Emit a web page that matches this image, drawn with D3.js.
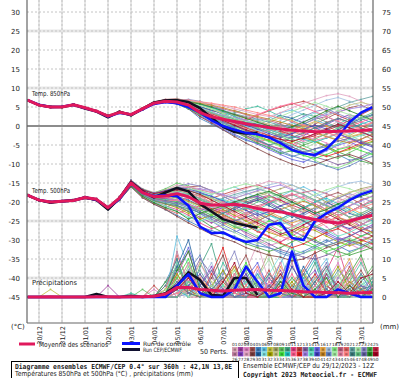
<!DOCTYPE html>
<html>
<head>
<meta charset="utf-8">
<title>Diagramme ensembles ECMWF/CEP</title>
<script src="https://cdn.jsdelivr.net/npm/d3@7/dist/d3.min.js"></script>
<style>
  body {margin:0;background:#fff;}
  svg text {font-family:"DejaVu Sans",sans-serif;fill:#222;}
</style>
</head>
<body>
<svg id="chart" width="400" height="378"></svg>
<script>
// échéances (heures depuis le 29/12 12Z)
var hours = [0,12,24,36,48,60,72,84,96,108,120,132,144,156,168,180,192,204,216,228,240,252,264,276,288,300,312,324,336,348,360];
var dayHours = [12,36,60,84,108,132,156,180,204,228,252,276,300,324,348];
var dayLabels = ["30/12","31/12","01/01","02/01","03/01","04/01","05/01","06/01","07/01","08/01","09/01","10/01","11/01","12/01","13/01"];
var leftTicks = [30,25,20,15,10,5,0,-5,-10,-15,-20,-25,-30,-35,-40,-45];
var rightTicks = [75,70,65,60,55,50,45,40,35,30,25,20,15,10,5,0];

// moyenne, contrôle et run déterministe
var t850Mean = [6.8,5.5,5.0,5.0,5.6,4.8,3.9,2.6,3.6,3.0,4.5,6.0,6.5,6.3,5.5,3.5,2.4,1.8,1.2,0.6,0.1,-0.4,-0.8,-1.1,-1.3,-1.5,-1.5,-1.4,-1.3,-1.2,-1.0];
var t850Ctrl = [6.8,5.6,5.0,5.1,5.6,4.7,3.9,2.5,3.5,3.0,4.4,5.8,6.3,6.0,5.0,3.5,1.5,0.0,-1.0,-1.8,-2.2,-3.0,-4.5,-6.3,-7.2,-7.6,-6.0,-3.0,1.0,3.5,5.0];
var t850Hres = [6.8,5.5,5.0,5.0,5.6,4.6,3.8,2.3,3.8,2.8,4.5,6.2,6.8,6.8,6.3,4.7,2.2,-0.2,-1.6,-2.0,-1.8];
var t500Mean = [-18.2,-19.5,-20,-19.8,-19.6,-18.8,-19.3,-21.5,-19,-15,-17.5,-18.6,-18.4,-17.8,-18.6,-20.3,-20.8,-20.8,-20.6,-21,-21.7,-22.2,-22.6,-23.2,-24,-24.6,-25.2,-25.5,-25,-24.2,-23.5];
var t500Ctrl = [-18.2,-19.5,-20,-19.8,-19.6,-18.8,-19.4,-21.5,-19.2,-15.2,-17.5,-18.4,-18.2,-18.5,-21,-26.5,-28.2,-28.0,-29.5,-30.5,-30,-26,-25.5,-29.5,-30,-25,-23,-21.5,-19.5,-18,-17];
var t500Hres = [-18.2,-19.5,-20.2,-19.8,-19.5,-18.8,-19.5,-22,-19,-14.8,-17.2,-18.8,-17.5,-16.3,-17.2,-20.5,-22.5,-24.5,-25.5,-26.2,-26.8];
var rrMean = [0,0,0.1,0,0,0,0.1,0.1,0,0.1,0.1,0.2,0.8,2.5,2.5,2.0,1.8,1.6,1.8,1.9,2.0,1.8,1.7,1.6,1.4,1.3,1.2,1.1,1.0,1.1,1.2];
var rrCtrl = [0,0,0,0,0,0,0,0,0,0,0,0,0,3,6,1,0,0,2,8,4,0,1,12,3,0,0,2,1,0,0];
var rrHres = [0,0,0,0,0,0,0.8,0,0,0.3,0,0.3,1,3,6.5,4.5,0.5,0.3,5,5,0.5];

// 50 perturbations, T850
var t850Members = [
[6.6,5.4,5.1,4.9,5.5,4.7,3.8,2.4,3.7,3.1,4.8,6.3,6.9,6.5,5.2,3.0,2.5,3.5,4.2,3.0,1.5,0.2,-1.5,-2.8,-3.5,-2.0,-0.5,1.2,2.5,3.0,2.2],
[6.9,5.6,4.9,5.1,5.7,4.9,4.0,2.7,3.4,2.8,4.2,5.8,6.2,6.8,6.0,4.8,3.5,2.0,0.5,-1.0,-2.5,-3.0,-2.2,-1.0,0.5,1.8,2.5,1.0,-0.5,-1.8,-2.5],
[6.7,5.5,5.0,5.2,5.4,4.6,3.7,2.5,3.9,3.2,4.6,6.1,6.6,6.0,4.8,2.5,1.0,-0.5,-1.5,-2.0,-3.5,-5.0,-6.2,-5.5,-4.0,-3.2,-4.5,-6.0,-5.2,-3.5,-2.0],
[6.8,5.3,4.8,5.0,5.8,5.0,4.1,2.8,3.5,2.9,4.4,6.2,7.0,7.2,6.5,5.0,4.2,3.8,2.5,1.0,0.2,-0.8,-1.5,-2.0,-1.2,0.5,2.0,3.5,4.8,5.5,4.2],
[6.9,5.7,5.2,4.8,5.5,4.8,3.9,2.6,3.3,2.7,4.3,5.9,6.4,5.8,4.5,2.0,0.5,-1.0,-2.5,-3.8,-4.5,-5.5,-7.0,-8.0,-7.2,-6.0,-5.5,-7.5,-9.0,-8.5,-7.0],
[6.7,5.5,5.1,5.1,5.6,4.8,3.8,2.3,3.6,3.1,4.7,6.0,6.5,6.6,6.2,5.5,5.0,4.2,3.0,2.2,1.5,2.0,3.5,4.2,3.0,1.5,0.5,-0.8,-2.0,-1.0,0.5],
[6.8,5.6,5.0,4.9,5.5,4.9,4.0,2.9,3.8,3.0,4.5,5.8,6.3,6.4,5.6,4.0,2.8,1.5,0.0,-1.5,-0.5,1.0,2.2,1.5,0.0,-1.5,-2.8,-3.5,-2.5,-1.0,0.8],
[6.6,5.4,5.0,5.0,5.7,4.7,3.9,2.5,3.5,2.9,4.4,6.1,6.7,6.2,5.0,3.2,2.2,1.0,-0.5,-2.0,-3.2,-4.0,-3.0,-1.5,-2.5,-4.2,-5.5,-4.8,-3.0,-2.2,-3.5],
[6.8,5.5,5.2,5.1,5.5,4.8,3.8,2.6,3.7,3.2,4.6,6.2,6.8,7.0,6.8,6.0,4.5,3.0,1.8,0.5,-0.8,-1.5,-2.8,-4.0,-5.2,-6.5,-7.8,-8.5,-7.0,-5.5,-4.2],
[6.9,5.5,4.9,4.9,5.6,4.9,4.0,2.7,3.6,3.0,4.5,5.9,6.3,5.9,4.9,3.8,3.0,2.5,2.0,1.2,0.5,-0.2,0.8,2.0,3.2,2.5,1.0,-0.5,0.2,1.5,2.8],
[6.7,5.6,5.1,5.0,5.4,4.7,3.7,2.4,3.8,3.1,4.7,6.3,6.9,6.9,6.0,4.2,2.8,1.2,-0.8,-2.5,-4.0,-5.2,-6.0,-5.0,-3.5,-2.0,-1.0,-2.0,-3.5,-4.5,-5.0],
[6.8,5.4,5.0,5.1,5.6,4.8,3.9,2.6,3.5,2.9,4.3,5.8,6.4,6.2,5.4,3.5,2.0,0.8,0.5,1.5,2.8,4.0,5.0,5.8,6.5,5.5,4.0,2.8,1.5,0.2,-1.0],
[6.9,5.6,5.0,4.9,5.7,4.9,4.0,2.8,3.4,2.8,4.4,6.0,6.6,6.8,6.5,5.2,3.8,2.5,1.0,-0.2,-1.2,-2.5,-4.0,-5.5,-7.0,-8.2,-9.0,-10.2,-9.5,-8.0,-6.5],
[6.6,5.5,5.1,5.0,5.5,4.8,3.8,2.5,3.6,3.0,4.6,6.1,6.5,6.1,5.3,4.0,3.2,2.8,3.5,4.5,5.2,4.0,2.5,1.0,-0.5,-1.8,-1.0,0.5,2.0,3.2,4.5],
[6.8,5.5,5.0,5.0,5.6,4.7,3.9,2.6,3.7,3.1,4.5,6.0,6.4,6.0,4.6,2.8,1.0,-0.8,-2.2,-3.5,-4.8,-6.2,-7.5,-8.8,-9.5,-8.0,-6.5,-5.0,-4.2,-5.5,-6.8],
[6.7,5.4,4.9,5.1,5.6,4.9,4.0,2.7,3.5,3.0,4.6,6.2,6.8,6.6,5.8,4.5,3.5,2.2,1.5,0.8,0.0,-1.0,-2.0,-1.2,0.0,1.2,0.0,-1.5,-2.8,-2.0,-0.8],
[6.9,5.6,5.1,4.9,5.5,4.8,3.8,2.5,3.6,3.1,4.7,6.1,6.5,6.3,5.5,3.8,2.2,0.5,-1.0,-2.2,-1.5,0.0,1.5,3.0,4.2,5.5,6.8,7.5,6.5,5.2,4.0],
[6.8,5.5,5.0,5.0,5.6,4.8,3.9,2.6,3.6,3.0,4.5,6.0,6.5,6.4,5.7,4.3,3.0,2.0,0.8,-0.5,-1.8,-3.0,-4.5,-6.0,-7.5,-9.0,-10.5,-11.0,-9.8,-8.5,-7.2],
[6.7,5.6,5.2,5.1,5.5,4.6,3.7,2.4,3.8,3.2,4.8,6.3,6.8,6.7,6.3,5.8,5.2,4.5,3.8,3.0,2.2,1.5,0.5,-0.5,-1.5,-0.5,1.0,2.0,1.0,-0.5,-1.5],
[6.8,5.4,4.9,4.9,5.7,5.0,4.1,2.8,3.4,2.8,4.3,5.8,6.2,5.9,5.0,3.2,1.8,0.2,-1.2,-2.8,-4.2,-3.5,-2.0,-0.8,-1.8,-3.0,-2.2,-1.0,0.2,-0.8,-2.0],
[6.9,5.5,5.0,5.0,5.6,4.8,3.8,2.6,3.6,3.0,4.4,5.9,6.4,6.5,6.2,5.5,4.8,4.0,3.2,2.5,1.8,1.0,0.2,-0.5,0.5,2.0,3.5,5.0,6.2,7.0,7.8],
[6.6,5.5,5.1,5.0,5.5,4.7,3.9,2.5,3.7,3.1,4.6,6.1,6.7,6.4,5.2,3.5,2.0,0.5,-0.5,-1.8,-3.0,-4.2,-5.5,-6.8,-6.0,-4.5,-3.0,-1.8,-2.5,-3.8,-5.0],
[6.8,5.6,5.0,5.1,5.6,4.9,4.0,2.7,3.5,2.9,4.5,6.0,6.6,6.9,7.0,6.5,5.5,4.2,2.8,1.5,0.2,-1.2,-0.5,1.0,2.5,3.8,4.5,3.2,2.0,1.0,0.0],
[6.7,5.4,5.0,4.9,5.5,4.8,3.8,2.6,3.7,3.0,4.6,6.1,6.5,6.0,4.8,3.0,1.5,0.0,-1.5,-3.0,-4.5,-5.8,-7.2,-6.5,-5.0,-4.0,-5.2,-6.8,-8.0,-9.2,-10.0],
[6.8,5.5,5.0,5.0,5.6,4.8,3.9,2.5,3.6,3.1,4.5,6.0,6.5,6.3,5.6,4.6,4.0,3.5,3.0,2.2,1.2,0.0,-1.2,-2.5,-3.5,-2.5,-1.2,0.0,1.5,3.0,4.5],
[6.9,5.6,5.1,5.0,5.5,4.7,3.8,2.6,3.6,3.0,4.7,6.2,6.7,6.6,5.9,4.8,3.5,2.0,0.5,-1.0,-2.2,-3.2,-2.5,-1.0,0.5,0.0,-1.5,-3.0,-4.2,-3.5,-2.0],
[6.7,5.5,5.0,5.1,5.6,4.9,4.0,2.7,3.5,2.9,4.4,5.9,6.4,6.2,5.1,3.8,2.5,1.8,1.0,0.2,-0.5,-1.5,-2.5,-3.2,-2.5,-1.0,0.5,1.8,3.0,2.0,0.8],
[6.8,5.4,4.9,5.0,5.6,4.8,3.9,2.5,3.7,3.1,4.6,6.0,6.6,6.8,6.6,6.2,5.8,5.2,4.5,3.8,3.0,2.5,3.5,4.8,6.0,7.0,8.0,8.5,7.8,6.5,5.0],
[6.6,5.5,5.1,4.9,5.5,4.7,3.8,2.4,3.8,3.2,4.7,6.2,6.6,6.0,4.5,2.5,0.8,-1.0,-2.8,-4.5,-6.0,-7.5,-8.8,-10.0,-11.0,-10.2,-9.0,-8.0,-7.5,-8.5,-9.8],
[6.9,5.6,5.0,5.0,5.7,4.9,4.0,2.8,3.5,2.9,4.3,5.8,6.3,6.4,5.9,5.0,4.2,3.2,2.0,1.0,0.5,1.5,2.8,2.0,0.8,-0.5,-1.8,-1.0,0.5,2.0,3.0],
[6.8,5.5,5.0,5.0,5.6,4.8,3.9,2.6,3.6,3.0,4.5,6.0,6.5,6.4,5.8,4.8,3.8,2.5,1.2,0.0,-1.2,-2.0,-1.0,0.5,2.0,3.5,2.5,1.0,-0.2,-1.5,-2.5],
[6.7,5.6,5.1,5.0,5.5,4.8,3.8,2.5,3.6,3.1,4.6,6.1,6.6,6.2,5.3,4.0,2.8,1.5,0.2,-1.2,-2.5,-3.8,-5.0,-4.2,-3.0,-4.0,-5.5,-7.0,-6.2,-5.0,-4.0],
[6.8,5.4,5.0,5.1,5.6,4.9,4.0,2.7,3.5,2.9,4.4,5.9,6.5,6.7,6.4,5.5,4.5,3.5,2.8,2.0,1.2,0.5,-0.5,-1.5,-0.5,1.0,2.5,4.0,5.5,6.2,5.5],
[6.9,5.5,5.0,4.9,5.6,4.8,3.9,2.6,3.7,3.0,4.5,6.0,6.4,5.8,4.6,3.0,1.8,0.8,-0.5,-1.8,-2.8,-4.0,-5.2,-6.5,-7.8,-8.5,-7.5,-6.2,-5.5,-6.5,-7.5],
[6.6,5.5,5.1,5.0,5.5,4.7,3.8,2.5,3.6,3.1,4.6,6.1,6.8,7.0,6.6,5.8,4.8,3.8,2.5,1.2,0.0,-1.0,-2.0,-2.8,-3.5,-4.2,-3.2,-2.0,-0.8,0.5,1.5],
[6.8,5.6,5.0,5.0,5.6,4.9,3.9,2.7,3.5,2.9,4.4,5.9,6.3,6.0,5.2,3.8,2.5,1.5,1.0,1.8,3.0,4.2,5.2,6.0,5.0,3.8,2.5,1.2,0.0,1.0,2.2],
[6.7,5.5,4.9,5.1,5.6,4.8,3.9,2.6,3.7,3.0,4.5,6.0,6.6,6.5,5.8,4.5,3.2,2.0,0.8,-0.5,-1.5,-2.5,-3.5,-4.8,-6.0,-7.2,-8.0,-7.0,-5.8,-4.5,-3.5],
[6.9,5.4,5.0,5.0,5.5,4.7,3.8,2.5,3.6,3.1,4.7,6.2,6.7,6.4,5.5,4.2,3.5,2.8,2.2,1.5,0.8,0.0,-0.8,0.0,1.2,2.2,3.0,3.8,4.5,5.0,5.8],
[6.8,5.6,5.1,4.9,5.6,4.8,3.9,2.6,3.5,3.0,4.5,6.0,6.4,6.1,5.0,3.4,2.0,0.8,-0.2,-1.0,-2.0,-3.0,-4.0,-5.0,-6.2,-7.0,-6.0,-4.8,-3.5,-2.5,-1.5],
[6.7,5.5,5.0,5.0,5.7,4.9,4.0,2.7,3.6,2.9,4.3,5.8,6.2,5.8,4.8,3.5,2.5,1.8,1.0,0.2,-0.8,-2.0,-3.0,-2.0,-0.8,0.2,-0.8,-2.0,-3.2,-4.5,-5.5],
[6.8,5.5,5.0,5.0,5.5,4.8,3.8,2.6,3.7,3.1,4.6,6.1,6.6,6.7,6.4,6.0,5.5,4.8,4.0,3.2,2.5,1.8,1.0,0.2,-0.8,-1.8,-2.8,-3.8,-4.5,-3.5,-2.2],
[6.9,5.6,5.1,5.1,5.6,4.7,3.9,2.5,3.6,3.0,4.5,6.0,6.5,6.2,5.2,3.8,2.2,0.8,-0.5,-2.0,-3.5,-5.0,-6.5,-7.8,-8.8,-9.5,-10.5,-11.5,-10.5,-9.0,-8.0],
[6.6,5.4,5.0,4.9,5.6,4.9,4.0,2.7,3.5,2.9,4.4,5.9,6.4,6.5,6.2,5.5,4.5,3.2,2.0,1.2,0.8,1.5,2.5,3.8,5.0,6.2,5.2,4.0,3.0,2.2,1.5],
[6.8,5.5,5.0,5.0,5.6,4.8,3.9,2.6,3.6,3.0,4.5,6.0,6.5,6.3,5.5,4.2,3.0,1.8,0.5,-0.8,-2.0,-1.2,0.0,-1.0,-2.5,-3.8,-3.0,-2.0,-1.0,0.0,0.8],
[6.7,5.6,5.1,5.0,5.5,4.7,3.8,2.4,3.8,3.2,4.8,6.3,6.9,7.0,6.8,6.4,6.0,5.5,5.0,4.2,3.5,2.8,2.0,1.2,0.2,-0.8,-1.8,-2.5,-1.5,-0.2,1.0],
[6.8,5.5,4.9,5.0,5.6,4.9,4.0,2.7,3.5,2.9,4.4,5.9,6.4,6.0,4.8,3.2,1.8,0.2,-1.2,-2.5,-3.8,-5.0,-4.2,-3.0,-1.8,-0.5,0.8,2.0,1.0,-0.5,-1.8],
[6.9,5.5,5.0,5.1,5.6,4.8,3.9,2.6,3.6,3.1,4.6,6.1,6.6,6.4,5.7,4.5,3.5,2.5,1.5,0.5,-0.5,-1.5,-2.5,-3.5,-4.5,-3.5,-2.0,-0.5,1.0,2.2,3.5],
[6.7,5.4,5.0,5.0,5.5,4.8,3.8,2.5,3.7,3.0,4.5,6.0,6.5,6.2,5.3,3.8,2.5,1.2,0.0,-1.2,-2.2,-3.2,-4.2,-5.5,-6.8,-6.0,-5.0,-4.0,-3.2,-4.0,-5.2],
[6.8,5.6,5.1,4.9,5.6,4.9,4.0,2.8,3.5,2.9,4.3,5.8,6.3,6.5,6.3,5.8,5.0,4.0,3.0,2.0,1.0,0.0,-1.0,-0.2,1.0,2.5,4.0,5.2,4.0,2.8,1.5],
[6.6,5.5,5.0,5.0,5.6,4.7,3.9,2.6,3.6,3.1,4.6,6.1,6.6,6.3,5.5,4.0,2.8,1.5,0.2,-1.0,-2.0,-2.8,-3.5,-4.0,-3.2,-2.0,-0.8,0.5,-0.5,-1.5,-2.8]
];

// 50 perturbations, T500
var t500Members = [
[-18.0,-19.4,-20.2,-19.6,-19.5,-18.6,-19.5,-21.8,-18.5,-14.2,-16.5,-17.5,-16.8,-15.5,-16.2,-18.0,-20.5,-22.5,-24.0,-23.0,-21.5,-20.2,-19.5,-21.0,-23.5,-26.0,-28.5,-27.0,-25.0,-23.0,-21.5],
[-18.3,-19.6,-19.9,-19.9,-19.7,-19.0,-19.2,-21.3,-19.3,-15.6,-18.2,-19.8,-20.5,-21.2,-22.5,-24.0,-25.5,-24.0,-22.0,-20.5,-19.0,-18.2,-19.5,-21.5,-22.8,-21.5,-20.0,-21.8,-24.0,-26.5,-28.0],
[-18.1,-19.5,-20.1,-19.8,-19.4,-18.7,-19.4,-21.6,-19.1,-14.8,-17.0,-18.0,-17.2,-16.5,-17.8,-19.5,-21.0,-23.5,-26.0,-28.5,-30.0,-31.5,-30.5,-28.5,-26.0,-24.5,-26.5,-29.0,-31.0,-32.5,-31.0],
[-18.2,-19.3,-20.0,-19.7,-19.6,-18.9,-19.1,-21.2,-18.8,-15.2,-17.8,-19.0,-18.5,-17.0,-16.0,-15.8,-17.0,-18.5,-20.0,-22.0,-24.5,-26.0,-24.5,-23.0,-21.5,-20.0,-18.5,-17.5,-18.8,-20.5,-22.0],
[-18.4,-19.7,-20.1,-20.0,-19.8,-19.1,-19.6,-22.0,-19.6,-16.0,-18.8,-20.5,-22.0,-23.5,-25.0,-26.5,-27.5,-28.5,-29.0,-30.5,-31.5,-32.0,-33.0,-34.0,-33.0,-31.5,-30.0,-31.5,-33.0,-32.0,-30.5],
[-18.1,-19.4,-19.8,-19.6,-19.5,-18.6,-19.2,-21.4,-18.7,-14.5,-16.8,-17.8,-17.5,-17.0,-16.5,-17.2,-18.0,-17.0,-16.0,-17.5,-19.0,-20.0,-18.5,-17.0,-16.0,-17.5,-19.5,-21.0,-22.5,-21.0,-19.5],
[-18.2,-19.5,-20.0,-19.9,-19.7,-18.8,-19.3,-21.5,-19.0,-15.5,-18.0,-19.5,-20.0,-20.5,-21.0,-22.5,-24.0,-25.5,-27.0,-26.0,-24.5,-23.0,-24.5,-26.5,-28.0,-29.5,-28.0,-26.0,-24.5,-25.5,-27.0],
[-18.3,-19.6,-20.2,-19.8,-19.5,-18.9,-19.5,-21.7,-19.2,-14.9,-17.3,-18.4,-17.8,-17.5,-18.8,-21.0,-23.0,-22.0,-20.5,-19.5,-18.5,-17.5,-16.5,-15.5,-16.8,-18.5,-20.0,-19.0,-17.5,-16.5,-15.8],
[-18.0,-19.3,-19.9,-19.7,-19.6,-18.7,-19.2,-21.4,-18.9,-14.3,-16.6,-17.6,-16.5,-15.0,-15.8,-17.5,-19.0,-20.5,-22.0,-23.5,-25.0,-26.5,-28.0,-29.5,-31.0,-32.0,-33.5,-34.5,-33.5,-32.0,-30.5],
[-18.2,-19.5,-20.0,-19.8,-19.6,-18.8,-19.4,-21.6,-19.1,-15.3,-18.5,-20.2,-21.5,-20.0,-18.8,-19.5,-20.5,-21.5,-20.5,-19.0,-18.0,-19.5,-21.0,-22.5,-21.5,-20.5,-22.0,-23.5,-22.5,-21.0,-20.0],
[-18.4,-19.6,-20.1,-19.9,-19.7,-19.0,-19.5,-21.8,-19.4,-15.8,-18.6,-20.0,-21.0,-22.0,-23.5,-25.5,-27.0,-26.0,-24.5,-25.8,-27.5,-29.0,-30.5,-29.0,-27.0,-25.5,-24.0,-25.5,-27.5,-29.0,-30.0],
[-18.1,-19.4,-19.9,-19.7,-19.5,-18.7,-19.1,-21.3,-18.6,-14.6,-17.0,-18.2,-17.5,-16.8,-17.5,-18.5,-19.0,-18.0,-17.0,-16.2,-15.5,-16.5,-18.0,-19.5,-21.0,-22.5,-24.0,-22.5,-21.0,-19.5,-18.5],
[-18.2,-19.5,-20.0,-19.8,-19.6,-18.8,-19.3,-21.5,-19.0,-15.1,-17.6,-18.8,-19.2,-19.8,-20.8,-22.0,-23.5,-25.0,-26.5,-28.0,-29.5,-31.0,-32.5,-33.5,-34.5,-35.0,-34.0,-32.5,-31.0,-30.0,-29.0],
[-18.3,-19.6,-20.0,-19.9,-19.6,-18.9,-19.4,-21.6,-19.2,-15.4,-17.9,-19.2,-19.5,-18.5,-17.8,-18.2,-19.0,-20.0,-21.5,-23.0,-22.0,-20.5,-19.0,-18.0,-19.5,-21.0,-22.5,-24.0,-25.5,-24.0,-22.5],
[-18.2,-19.5,-20.1,-19.8,-19.5,-18.8,-19.3,-21.5,-19.0,-15.0,-17.4,-18.5,-18.8,-19.5,-21.0,-23.0,-25.0,-27.0,-28.0,-26.5,-25.0,-23.5,-22.0,-23.5,-25.0,-26.5,-28.0,-29.5,-30.5,-29.0,-27.5],
[-18.1,-19.4,-19.9,-19.7,-19.6,-18.6,-19.2,-21.4,-18.8,-14.7,-17.1,-18.0,-17.0,-16.2,-16.8,-18.0,-19.5,-21.0,-22.5,-22.0,-21.0,-22.5,-24.0,-25.5,-24.5,-23.0,-21.5,-20.5,-21.5,-23.0,-24.5],
[-18.3,-19.6,-20.0,-19.9,-19.7,-18.9,-19.4,-21.6,-19.1,-15.2,-17.7,-18.9,-19.5,-20.2,-21.5,-22.2,-21.0,-19.5,-18.5,-17.5,-16.5,-15.5,-14.8,-15.5,-17.0,-18.5,-17.5,-16.0,-15.0,-14.5,-15.5],
[-18.2,-19.5,-20.0,-19.8,-19.6,-18.8,-19.3,-21.5,-19.0,-15.0,-17.5,-18.7,-19.0,-19.0,-20.0,-21.5,-23.0,-24.5,-26.0,-27.5,-29.0,-30.0,-31.0,-32.5,-33.5,-32.5,-31.5,-30.5,-29.5,-31.0,-32.0],
[-18.0,-19.4,-19.9,-19.6,-19.4,-18.6,-19.1,-21.3,-18.6,-14.4,-16.8,-17.8,-17.2,-16.5,-16.0,-16.8,-17.5,-18.2,-19.0,-20.0,-21.0,-20.0,-19.0,-18.2,-17.5,-16.8,-17.8,-19.0,-20.0,-21.2,-22.0],
[-18.4,-19.7,-20.1,-20.0,-19.8,-19.0,-19.6,-21.9,-19.5,-15.9,-18.7,-20.2,-21.8,-23.0,-22.0,-21.0,-22.5,-24.0,-25.0,-23.5,-22.0,-23.0,-24.5,-26.0,-27.5,-26.5,-25.0,-24.0,-25.0,-26.5,-28.0],
[-18.2,-19.5,-20.0,-19.8,-19.6,-18.8,-19.3,-21.5,-19.0,-15.0,-17.4,-18.4,-18.0,-17.5,-18.0,-19.0,-20.0,-19.0,-18.0,-17.2,-16.5,-17.5,-18.5,-20.0,-21.5,-23.0,-22.0,-20.5,-19.0,-17.5,-16.5],
[-18.3,-19.6,-20.1,-19.9,-19.7,-18.9,-19.4,-21.7,-19.3,-15.5,-18.1,-19.5,-20.2,-21.0,-22.0,-23.5,-25.0,-26.5,-28.0,-29.5,-31.0,-30.0,-28.5,-27.0,-25.5,-24.0,-22.5,-21.5,-22.5,-24.0,-25.5],
[-18.1,-19.4,-19.9,-19.7,-19.5,-18.7,-19.2,-21.4,-18.8,-14.6,-17.0,-17.9,-17.0,-16.0,-15.2,-15.8,-17.0,-18.5,-20.0,-21.5,-23.0,-24.5,-26.0,-25.0,-23.5,-22.0,-20.5,-19.0,-17.8,-18.8,-20.0],
[-18.2,-19.5,-20.0,-19.8,-19.6,-18.8,-19.3,-21.5,-19.1,-15.2,-17.8,-19.1,-19.8,-20.8,-22.5,-24.5,-26.5,-28.0,-29.5,-31.0,-32.0,-33.0,-32.0,-30.5,-29.0,-30.0,-31.5,-33.0,-34.0,-33.0,-32.0],
[-18.3,-19.6,-20.0,-19.9,-19.7,-18.9,-19.4,-21.6,-19.2,-15.3,-17.8,-19.0,-19.0,-18.2,-18.8,-20.0,-21.5,-22.5,-21.5,-20.5,-19.5,-18.5,-19.5,-20.8,-22.0,-23.5,-25.0,-26.5,-25.5,-24.0,-22.5],
[-18.1,-19.4,-19.9,-19.7,-19.5,-18.6,-19.2,-21.3,-18.7,-14.5,-16.9,-17.8,-17.2,-16.8,-17.5,-19.0,-20.5,-22.0,-23.5,-25.0,-24.0,-22.5,-21.0,-19.5,-18.5,-19.8,-21.0,-22.5,-24.0,-25.5,-27.0],
[-18.2,-19.5,-20.1,-19.8,-19.6,-18.8,-19.3,-21.5,-19.0,-15.1,-17.6,-18.8,-19.0,-19.5,-20.5,-21.8,-22.5,-21.5,-20.0,-19.0,-18.5,-20.0,-21.8,-23.5,-25.0,-27.0,-28.5,-30.0,-29.0,-27.5,-26.0],
[-18.2,-19.5,-20.0,-19.8,-19.6,-18.8,-19.3,-21.5,-19.0,-14.9,-17.2,-18.2,-17.5,-16.5,-16.0,-16.5,-17.5,-18.5,-17.5,-16.5,-15.5,-14.5,-15.0,-16.5,-18.0,-19.5,-21.0,-20.0,-18.5,-17.0,-16.0],
[-18.4,-19.7,-20.2,-20.0,-19.8,-19.1,-19.6,-21.9,-19.5,-16.0,-18.9,-20.6,-22.0,-23.8,-25.5,-27.0,-28.5,-29.5,-30.5,-32.0,-33.0,-34.0,-34.5,-35.5,-35.0,-33.5,-32.0,-31.0,-30.0,-31.0,-32.5],
[-18.1,-19.4,-19.9,-19.7,-19.5,-18.7,-19.2,-21.4,-18.8,-14.7,-17.1,-18.1,-18.0,-18.5,-19.5,-21.0,-22.0,-23.0,-22.0,-20.5,-19.5,-21.0,-22.5,-24.0,-23.0,-21.5,-20.0,-21.5,-23.0,-24.0,-23.0],
[-18.2,-19.5,-20.0,-19.8,-19.6,-18.8,-19.3,-21.5,-19.0,-15.0,-17.5,-18.6,-18.6,-18.0,-19.0,-20.5,-21.5,-20.5,-19.5,-20.5,-22.0,-23.5,-25.0,-26.5,-25.5,-24.0,-22.5,-21.0,-20.0,-21.0,-22.5],
[-18.3,-19.6,-20.1,-19.9,-19.7,-18.9,-19.4,-21.7,-19.3,-15.6,-18.2,-19.7,-20.5,-21.5,-23.0,-24.5,-23.5,-22.0,-23.5,-25.0,-26.5,-28.0,-29.0,-28.0,-26.5,-27.5,-29.0,-30.5,-31.5,-30.5,-29.0],
[-18.1,-19.4,-19.9,-19.7,-19.5,-18.7,-19.2,-21.4,-18.7,-14.5,-16.8,-17.6,-16.8,-16.0,-16.8,-18.0,-19.0,-20.0,-19.0,-18.0,-17.2,-18.5,-20.0,-21.5,-22.5,-21.5,-20.0,-18.5,-17.5,-16.8,-17.5],
[-18.2,-19.5,-20.0,-19.8,-19.6,-18.8,-19.3,-21.5,-19.0,-15.2,-17.7,-19.0,-19.5,-20.0,-21.0,-22.0,-23.5,-25.0,-26.5,-27.5,-26.5,-25.0,-26.5,-28.5,-30.0,-31.5,-33.0,-32.0,-30.5,-29.0,-28.0],
[-18.2,-19.5,-20.0,-19.8,-19.6,-18.8,-19.3,-21.5,-19.0,-14.8,-17.2,-18.3,-18.0,-17.2,-17.0,-17.8,-18.5,-19.5,-20.5,-21.5,-22.5,-23.5,-24.5,-23.0,-21.5,-20.0,-19.0,-20.5,-22.0,-23.5,-25.0],
[-18.3,-19.6,-20.0,-19.9,-19.7,-18.9,-19.4,-21.6,-19.2,-15.4,-18.0,-19.3,-19.8,-19.5,-19.0,-19.8,-21.0,-22.5,-24.0,-23.0,-21.5,-20.0,-18.8,-17.8,-19.0,-20.5,-22.0,-23.5,-22.5,-21.0,-19.5],
[-18.1,-19.4,-19.9,-19.7,-19.5,-18.7,-19.2,-21.4,-18.8,-14.6,-16.9,-17.9,-17.5,-17.8,-18.8,-20.2,-21.8,-23.2,-24.8,-26.2,-27.8,-29.2,-30.8,-32.0,-31.0,-29.5,-28.0,-27.0,-28.5,-30.0,-31.0],
[-18.2,-19.5,-20.1,-19.8,-19.6,-18.8,-19.3,-21.5,-19.0,-15.0,-17.5,-18.5,-18.2,-17.5,-17.0,-16.5,-17.0,-18.0,-19.0,-18.0,-17.0,-16.2,-15.5,-16.8,-18.2,-19.5,-20.8,-22.0,-21.0,-19.8,-18.5],
[-18.4,-19.7,-20.1,-20.0,-19.8,-19.0,-19.5,-21.8,-19.4,-15.7,-18.5,-20.0,-21.0,-22.5,-24.0,-25.0,-24.0,-23.0,-24.5,-26.0,-27.5,-26.5,-25.0,-23.5,-24.5,-26.0,-27.5,-29.0,-28.0,-26.5,-25.5],
[-18.1,-19.4,-19.9,-19.6,-19.5,-18.6,-19.1,-21.3,-18.6,-14.3,-16.7,-17.7,-17.0,-16.2,-16.5,-17.5,-18.5,-19.8,-21.0,-22.2,-23.5,-22.5,-21.0,-20.0,-21.5,-23.0,-24.5,-26.0,-27.0,-26.0,-24.5],
[-18.2,-19.5,-20.0,-19.8,-19.6,-18.8,-19.3,-21.5,-19.0,-15.1,-17.6,-18.7,-18.5,-18.8,-19.8,-21.0,-22.2,-23.5,-24.8,-26.0,-25.0,-23.5,-22.0,-20.8,-19.8,-21.0,-22.5,-24.0,-25.5,-27.0,-28.0],
[-18.3,-19.6,-20.0,-19.9,-19.7,-18.9,-19.4,-21.6,-19.2,-15.4,-18.0,-19.4,-20.0,-20.5,-21.5,-23.0,-24.5,-26.0,-27.5,-29.0,-30.5,-32.0,-33.5,-34.5,-33.5,-32.0,-30.5,-29.5,-30.5,-31.5,-30.0],
[-18.1,-19.4,-19.9,-19.7,-19.5,-18.7,-19.2,-21.4,-18.8,-14.7,-17.0,-18.0,-17.8,-17.2,-16.5,-17.0,-18.0,-17.0,-16.0,-15.2,-16.0,-17.5,-19.0,-20.5,-19.5,-18.0,-16.8,-15.8,-16.5,-17.8,-19.0],
[-18.2,-19.5,-20.0,-19.8,-19.6,-18.8,-19.3,-21.5,-19.0,-15.0,-17.5,-18.6,-18.8,-19.5,-20.5,-22.0,-21.0,-20.0,-21.5,-23.0,-24.5,-26.0,-27.5,-26.5,-25.0,-23.5,-24.5,-26.0,-27.5,-26.0,-24.5],
[-18.2,-19.5,-20.0,-19.8,-19.6,-18.8,-19.3,-21.5,-19.0,-14.9,-17.3,-18.3,-17.8,-17.0,-17.5,-18.5,-20.0,-21.5,-23.0,-24.5,-26.0,-27.5,-29.0,-30.0,-28.5,-27.0,-25.5,-24.0,-22.5,-21.5,-20.5],
[-18.3,-19.6,-20.1,-19.9,-19.7,-18.9,-19.4,-21.7,-19.3,-15.5,-18.2,-19.6,-20.4,-21.0,-21.8,-22.8,-24.0,-23.0,-21.5,-20.0,-19.0,-20.5,-22.0,-23.5,-25.0,-26.5,-27.5,-26.5,-25.0,-23.5,-22.0],
[-18.1,-19.4,-19.9,-19.7,-19.5,-18.7,-19.2,-21.4,-18.7,-14.6,-16.9,-17.9,-17.5,-17.0,-17.8,-19.2,-20.5,-21.5,-22.5,-21.5,-20.0,-18.8,-17.8,-17.0,-18.0,-19.5,-21.0,-22.5,-24.0,-23.0,-21.5],
[-18.2,-19.5,-20.0,-19.8,-19.6,-18.8,-19.3,-21.5,-19.0,-15.2,-17.8,-19.1,-19.6,-20.2,-21.0,-22.5,-24.0,-25.5,-25.0,-24.0,-23.0,-24.5,-26.0,-27.5,-29.0,-30.5,-31.5,-30.5,-29.0,-27.5,-26.5],
[-18.4,-19.7,-20.2,-20.0,-19.8,-19.0,-19.5,-21.8,-19.4,-15.8,-18.5,-20.2,-21.5,-22.5,-24.5,-23.0,-22.0,-21.0,-20.0,-19.0,-18.0,-17.2,-18.5,-20.0,-21.5,-23.0,-22.0,-20.5,-19.5,-18.5,-17.5],
[-18.1,-19.4,-19.9,-19.7,-19.5,-18.6,-19.2,-21.3,-18.7,-14.5,-16.8,-17.8,-17.2,-16.8,-17.0,-18.0,-19.5,-21.0,-22.5,-24.0,-25.5,-27.0,-28.5,-27.5,-26.0,-24.5,-23.0,-24.5,-26.0,-27.5,-29.0]
];

// 50 perturbations, précipitations (mm)
var rrMembers = [
[0,0,0,0,0,0,0,0,0,0,0,0,1,3,0,2,5,1,0,3,8,2,0,1,4,0,2,6,1,0,2],
[0,0,0,0,0,0,0,3,0,0,0,0,0,6,12,2,0,1,4,0,0,3,7,1,0,5,2,0,3,1,0],
[0,0,0,0,0,0,0,0,0,0,0,2,0,1,4,9,3,0,0,2,6,0,1,3,0,0,4,9,2,0,1],
[0,0,0,0,0,0,0,0,0,0,0,0,0,0,2,5,1,0,6,11,3,0,0,2,5,1,0,0,3,7,2],
[0,0,0,0,0,0,0,0,0,0,0,0,4,10,2,0,1,7,3,0,0,2,9,14,4,0,1,3,0,2,5],
[0,0,0,0,0,0,0,0,0,0,0,0,0,16,8,1,0,0,2,4,0,0,3,1,0,6,10,2,0,0,1],
[0,0,2,0,0,0,0,0,0,0,0,0,0,0,3,1,0,2,8,3,0,1,0,4,7,1,0,2,5,0,0],
[0,0,0,0,0,0,0,0,0,0,0,0,2,5,1,0,3,0,0,1,5,12,4,0,0,2,0,1,6,3,0],
[0,0,0,0,0,0,0,0,0,0,2,0,0,1,6,3,0,0,4,1,0,0,2,8,3,0,5,1,0,4,8],
[0,0,0,0,0,0,0,0,0,0,0,0,0,3,0,8,14,3,0,0,1,5,2,0,3,9,1,0,0,2,1],
[0,0,0,0,0,0,0,0,0,0,0,0,0,0,5,2,0,1,3,6,1,0,4,2,0,0,7,13,3,0,1],
[0,0,0,0,0,0,0,0,0,0,0,3,0,9,2,0,0,5,1,0,2,7,0,0,1,4,0,2,8,1,0],
[0,0,0,0,0,0,0,0,0,0,0,0,1,2,4,10,6,0,0,3,0,1,5,11,2,0,0,3,1,0,4],
[0,0,0,0,0,0,0,0,0,1,0,0,0,4,1,0,2,9,4,0,0,1,3,0,6,2,0,0,4,9,3],
[0,0,0,0,0,0,0,0,0,0,0,0,0,7,13,4,0,0,1,5,9,2,0,0,3,1,6,0,0,2,0],
[0,0,0,0,0,0,0,0,0,0,0,0,0,0,2,6,1,0,0,2,4,0,8,3,0,1,0,5,10,2,0],
[0,0,0,0,0,0,0,0,0,0,0,0,3,1,0,4,9,2,0,0,6,1,0,2,5,0,0,1,3,6,1],
[0,0,0,0,0,0,0,0,0,0,0,0,0,2,8,1,0,3,7,1,0,0,4,10,6,1,0,0,2,4,0],
[0,0,0,0,0,0,0,0,0,0,0,0,0,5,0,0,3,1,0,2,0,6,2,0,0,3,8,2,0,1,5],
[0,0,0,0,0,0,0,0,0,0,0,0,2,11,4,0,0,2,5,0,1,3,0,0,7,12,3,0,1,0,2],
[0,0,0,0,0,0,0,0,0,0,0,0,0,1,3,7,2,0,0,4,1,0,0,3,1,0,2,7,4,0,0],
[0,0,0,0,0,0,0,0,0,0,0,0,0,3,9,2,0,1,0,0,5,10,3,0,2,0,1,4,0,3,6],
[0,0,0,0,0,0,0,0,0,0,0,0,0,0,1,4,0,6,12,3,0,0,2,1,0,4,9,1,0,0,2],
[0,0,0,0,0,0,0,0,0,0,0,0,4,8,2,0,1,0,3,8,2,0,1,5,2,0,0,2,6,11,3],
[0,0,0,0,0,0,0,0,0,0,0,0,0,2,5,1,0,4,1,0,0,3,6,0,1,0,3,1,0,2,0],
[0,0,0,0,0,0,0,0,0,0,0,0,0,12,3,0,0,1,6,2,0,0,3,9,1,0,0,4,2,0,1],
[0,0,0,0,0,0,0,0,0,0,0,0,1,4,0,3,8,1,0,0,2,5,1,0,4,7,1,0,0,3,2],
[0,0,0,0,0,0,0,0,0,0,0,0,0,0,6,3,0,0,2,7,14,4,0,1,0,2,5,0,3,1,0],
[0,0,0,0,0,0,0,0,0,0,0,0,0,3,1,0,5,11,2,0,0,1,4,2,0,0,6,3,0,4,7],
[0,0,0,0,0,0,0,0,0,0,0,0,0,8,15,3,0,2,0,1,4,0,0,2,8,3,0,1,2,0,1],
[0,0,0,0,0,0,0,0,0,0,0,0,0,1,4,2,0,0,5,1,0,6,11,2,0,1,0,3,1,5,0],
[0,0,0,0,0,0,0,0,0,0,0,0,2,6,1,0,3,7,1,0,2,0,1,4,0,0,3,8,2,0,2],
[0,0,0,0,0,0,0,0,0,0,0,0,0,0,2,9,4,0,0,3,0,2,6,1,0,5,1,0,4,1,0],
[0,0,0,0,0,0,0,0,0,0,0,0,0,5,10,1,0,0,4,9,3,0,0,1,3,0,2,0,0,6,3],
[0,0,0,0,0,0,0,0,0,0,0,0,0,2,0,4,1,0,0,2,6,2,0,0,5,10,2,0,1,0,4],
[0,0,0,0,0,0,0,0,0,0,0,0,3,0,7,2,0,5,1,0,0,4,2,6,1,0,0,2,7,2,0],
[0,0,0,0,0,0,0,0,0,0,0,0,0,4,1,0,6,13,3,0,1,0,3,0,2,6,1,0,3,1,2],
[0,0,0,0,0,0,0,0,0,0,0,0,0,1,5,2,0,1,3,0,7,2,0,0,4,1,0,5,9,1,0],
[0,0,0,0,0,0,0,0,0,0,0,0,1,9,3,0,0,3,0,4,1,0,5,1,0,2,7,1,0,3,5],
[0,0,0,0,0,0,0,0,0,0,0,0,0,0,3,6,2,0,2,6,1,0,1,8,3,0,0,2,1,0,3],
[0,0,0,0,0,0,0,0,0,0,0,0,0,6,2,0,1,4,8,1,0,2,0,3,6,1,0,1,4,2,0],
[0,0,0,0,0,0,0,0,0,0,0,0,0,2,7,11,3,0,0,1,3,0,5,12,2,0,1,0,2,6,1],
[0,0,0,0,0,0,0,0,0,0,0,0,2,4,0,1,3,0,4,2,0,1,0,2,4,0,3,6,0,0,2],
[0,0,0,0,0,0,0,0,0,0,0,0,0,3,9,1,0,2,6,0,0,4,9,1,0,3,0,0,5,10,2],
[0,0,0,0,0,0,0,0,0,0,0,0,0,1,2,5,1,0,0,3,8,1,0,2,0,1,4,2,0,1,0],
[0,0,0,0,0,0,0,0,0,0,0,0,3,10,1,0,2,5,0,0,2,6,3,0,0,4,8,1,0,2,3],
[0,0,0,0,0,0,0,0,0,0,0,0,0,0,4,2,0,0,3,7,1,0,2,5,1,0,0,3,7,1,0],
[0,0,0,0,0,0,0,0,0,0,0,0,0,4,1,3,7,2,0,1,0,3,1,0,6,11,2,0,1,3,1],
[0,0,0,0,0,0,0,0,0,0,0,0,1,7,12,2,0,0,5,2,0,0,4,1,0,2,5,0,3,0,2],
[0,0,0,0,0,0,0,0,0,0,0,0,0,2,5,1,0,4,9,1,0,2,6,2,0,0,1,4,1,5,6]
];

var memberColors = ["#d8a0b0","#a040a0","#e080c0","#a05050","#4080c0","#60c0e0","#c0c040","#a0a060","#60c060","#40a080",
  "#e04080","#c04040","#8060a0","#40c0a0","#6060e0","#e0a040","#a0c0e0","#80e080","#c06080","#e06060",
  "#60a0a0","#a0e0a0","#8080c0","#40a040","#c02040","#c080a0","#8040c0","#e0a0c0","#804040","#2060a0",
  "#80e0e0","#a0a000","#c0c080","#40e040","#20c0c0","#ff6090","#e02020","#a080e0","#60e0c0","#4040c0",
  "#c08020","#6080c0","#a0e8a0","#e080a0","#ff8080","#408080","#60c080","#6060a0","#208020","#a00020"];

var svg = d3.select("#chart");
var x = d3.scaleLinear().domain([0,360]).range([27.5,372.5]);
var y = d3.scaleLinear().domain([-51.84,33.16]).range([323,0]);
var rr = function(v){ return y(v - 45); };   // précip sur l'axe de droite

svg.append("defs").append("clipPath").attr("id","plot")
  .append("rect").attr("x",27).attr("y",0).attr("width",346).attr("height",323);

// grille
var grid = svg.append("g");
grid.selectAll("line.band").data([25,10,-25,-40]).enter().append("line")
  .attr("x1",27).attr("x2",373).attr("y1",d=>y(d)).attr("y2",d=>y(d))
  .attr("stroke","#e8e8e8").attr("stroke-width",3);
grid.selectAll("line.v").data(dayHours).enter().append("line")
  .attr("x1",d=>x(d)).attr("x2",d=>x(d)).attr("y1",0).attr("y2",323)
  .attr("stroke","#e6e6e6").attr("stroke-width",2);
grid.selectAll("line.vd").data(dayHours).enter().append("line")
  .attr("x1",d=>x(d)).attr("x2",d=>x(d)).attr("y1",0).attr("y2",323)
  .attr("stroke","#c4c4c4").attr("stroke-dasharray","2,2");
grid.selectAll("line.h").data(leftTicks).enter().append("line")
  .attr("x1",27).attr("x2",373).attr("y1",d=>y(d)).attr("y2",d=>y(d))
  .attr("stroke","#c4c4c4").attr("stroke-dasharray","2,2");
grid.append("line").attr("x1",27).attr("x2",373).attr("y1",y(0)).attr("y2",y(0))
  .attr("stroke","#8c8c8c").attr("stroke-width",2);

var plot = svg.append("g").attr("clip-path","url(#plot)");
var lineT = d3.line().x((d,i)=>x(hours[i])).y(d=>y(d));
var lineR = d3.line().x((d,i)=>x(hours[i])).y(d=>rr(d));

function drawMembers(list, gen, fy) {
  var g = plot.append("g").attr("opacity",0.9);
  list.forEach(function(m, k){
    g.append("path").attr("d",gen(m)).attr("fill","none")
      .attr("stroke",memberColors[k]).attr("stroke-width",0.9);
    g.selectAll(null).data(m).enter().append("rect")
      .attr("x",(d,i)=>x(hours[i])-0.8).attr("y",d=>fy(d)-0.8)
      .attr("width",1.6).attr("height",1.6).attr("fill",memberColors[k]);
  });
}
drawMembers(rrMembers, lineR, rr);
drawMembers(t500Members, lineT, y);
drawMembers(t850Members, lineT, y);

function drawMain(data, gen, color, w) {
  plot.append("path").attr("d",gen(data)).attr("fill","none")
    .attr("stroke",color).attr("stroke-width",w).attr("stroke-linejoin","round");
}
[[t850Hres,lineT],[t500Hres,lineT],[rrHres,lineR]].forEach(s=>drawMain(s[0],s[1],"#101020",2.5));
[[t850Ctrl,lineT],[t500Ctrl,lineT],[rrCtrl,lineR]].forEach(s=>drawMain(s[0],s[1],"#0a14ff",2.5));
[[t850Mean,lineT],[t500Mean,lineT],[rrMean,lineR]].forEach(s=>drawMain(s[0],s[1],"#e0185c",3));

// cadre et axes
svg.append("line").attr("x1",27).attr("x2",27).attr("y1",0).attr("y2",323).attr("stroke","#666").attr("stroke-width",1.2);
svg.append("line").attr("x1",373).attr("x2",373).attr("y1",0).attr("y2",323).attr("stroke","#666").attr("stroke-width",1.2);
svg.append("line").attr("x1",27).attr("x2",373).attr("y1",323).attr("y2",323).attr("stroke","#666").attr("stroke-width",1.2);

svg.selectAll("text.lt").data(leftTicks).enter().append("text")
  .attr("x",20).attr("y",d=>y(d)+2.5).attr("text-anchor","end")
  .attr("font-size",7).text(d=>d);
svg.selectAll("text.rt").data(rightTicks).enter().append("text")
  .attr("x",382).attr("y",d=>rr(d)+2.5).attr("font-size",7).text(d=>d);
svg.append("text").attr("x",11).attr("y",329).attr("font-size",7).text("(°C)");
svg.append("text").attr("x",380).attr("y",329).attr("font-size",7).text("(mm)");

svg.selectAll("text.day").data(dayLabels).enter().append("text")
  .attr("transform",(d,i)=>"translate("+(x(dayHours[i])+2.5)+",326) rotate(-90)")
  .attr("text-anchor","end").attr("font-size",6.5).text(d=>d);

svg.append("text").attr("x",32).attr("y",96).attr("font-size",7).attr("textLength",38).attr("lengthAdjust","spacingAndGlyphs").text("Temp. 850hPa");
svg.append("text").attr("x",32).attr("y",193).attr("font-size",7).attr("textLength",38).attr("lengthAdjust","spacingAndGlyphs").text("Temp. 500hPa");
svg.append("text").attr("x",32).attr("y",285).attr("font-size",7).attr("textLength",45).attr("lengthAdjust","spacingAndGlyphs").text("Précipitations");

// légende
svg.append("line").attr("x1",19).attr("x2",35).attr("y1",344).attr("y2",344).attr("stroke","#e0185c").attr("stroke-width",3);
svg.append("text").attr("x",39).attr("y",346.5).attr("font-size",7).attr("textLength",69).attr("lengthAdjust","spacingAndGlyphs").text("Moyenne des scénarios");
svg.append("line").attr("x1",122).attr("x2",140).attr("y1",343.5).attr("y2",343.5).attr("stroke","#0a14ff").attr("stroke-width",3);
svg.append("line").attr("x1",122).attr("x2",140).attr("y1",349.5).attr("y2",349.5).attr("stroke","#101030").attr("stroke-width",3);
svg.append("text").attr("x",143).attr("y",345.5).attr("font-size",6).attr("textLength",48).attr("lengthAdjust","spacingAndGlyphs").text("Run de contrôle");
svg.append("text").attr("x",143).attr("y",352).attr("font-size",6).attr("textLength",39).attr("lengthAdjust","spacingAndGlyphs").text("Run CEP/ECMWF");
svg.append("text").attr("x",200).attr("y",354).attr("font-size",7).attr("textLength",28).attr("lengthAdjust","spacingAndGlyphs").text("50 Perts.");

var boxes = svg.append("g");
memberColors.forEach(function(c, k){
  var col = k % 25, row = Math.floor(k / 25);
  var bx = 232 + col * 5.875;
  boxes.append("rect").attr("x",bx).attr("y",347 + row*4.7).attr("width",5.6).attr("height",4.7).attr("fill",c);
  boxes.append("rect").attr("x",bx+1.6).attr("y",348.5 + row*4.7).attr("width",2.4).attr("height",2.2)
    .attr("fill",d3.color(c).darker(0.9));
  boxes.append("text").attr("x",bx+2.8).attr("y",row ? 361 : 346).attr("text-anchor","middle")
    .attr("font-size",4.3).text(String(k+1).padStart(2,"0"));
});

// titres
svg.append("rect").attr("x",11.5).attr("y",361.5).attr("width",227).attr("height",20).attr("fill","#fff").attr("stroke","#000");
svg.append("text").attr("x",15).attr("y",368.5).attr("font-size",7).attr("font-weight","bold")
  .style("font-family","'DejaVu Sans Mono',monospace").attr("textLength",217).attr("lengthAdjust","spacingAndGlyphs")
  .text("Diagramme ensembles ECMWF/CEP 0.4° sur 360h : 42,1N 13,8E");
svg.append("text").attr("x",15).attr("y",376).attr("font-size",7)
  .attr("textLength",178).attr("lengthAdjust","spacingAndGlyphs")
  .text("Températures 850hPa et 500hPa (°C) , précipitations (mm)");
svg.append("text").attr("x",243).attr("y",368).attr("font-size",7)
  .attr("textLength",131).attr("lengthAdjust","spacingAndGlyphs")
  .text("Ensemble ECMWF/CEP du 29/12/2023 - 12Z");
svg.append("text").attr("x",243).attr("y",376.5).attr("font-size",7).attr("font-weight","bold")
  .style("font-family","'DejaVu Sans Mono',monospace").attr("textLength",134).attr("lengthAdjust","spacingAndGlyphs")
  .text("Copyright 2023 Meteociel.fr - ECMWF");
</script>
</body>
</html>
